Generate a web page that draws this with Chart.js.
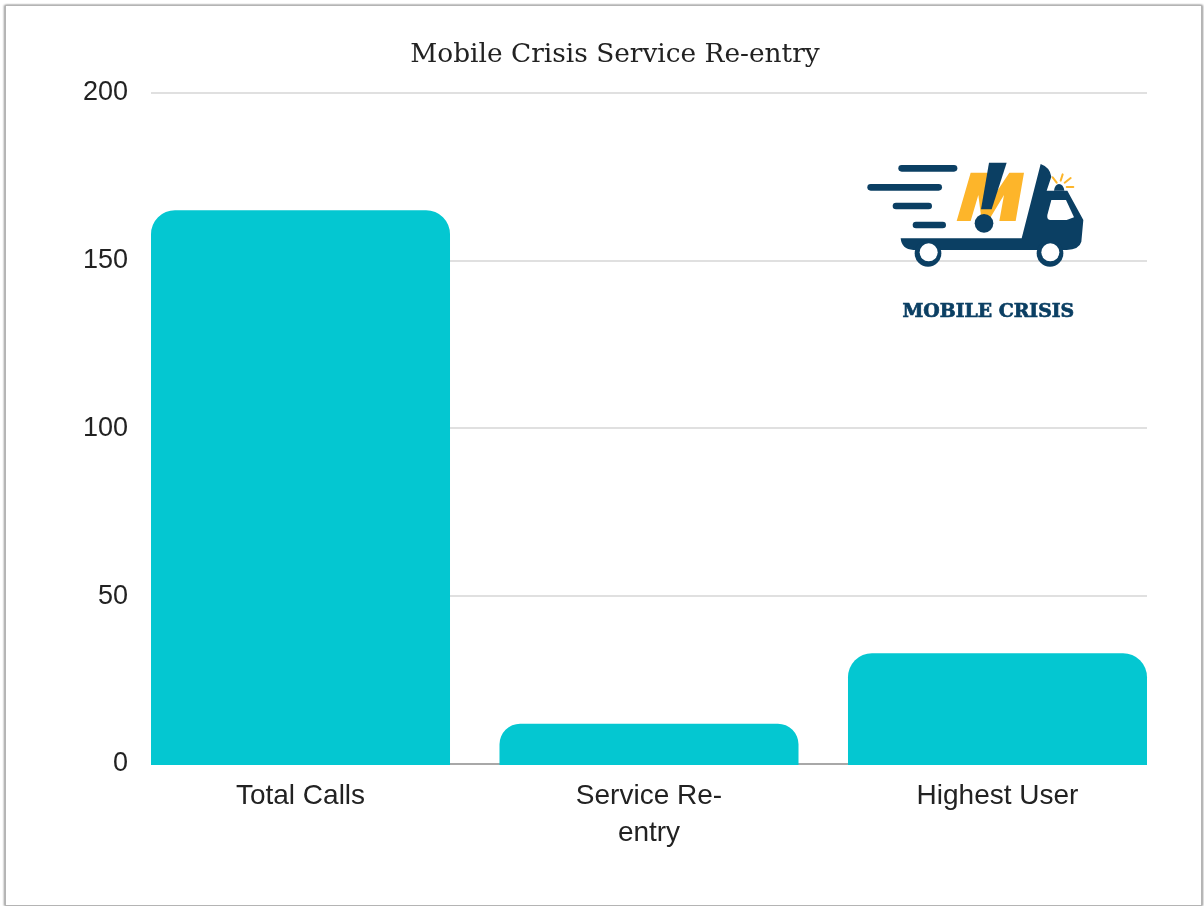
<!DOCTYPE html>
<html>
<head>
<meta charset="utf-8">
<title>Mobile Crisis Service Re-entry</title>
<script src="https://cdn.jsdelivr.net/npm/chart.js@4"></script>
<style>
  html, body { margin: 0; padding: 0; background: #fff; overflow: hidden; }
  #page { position: relative; width: 1204px; height: 906px; }
  #myChart { position: absolute; left: 0; top: 0; }
  #frame { position: absolute; left: 5px; top: 5px; width: 1195px; height: 899px; border: 1px solid #b4b4b4; box-shadow: -1px 0 2px #999, 1px 0 2px #999; pointer-events: none; }
  #logo { position: absolute; left: 850px; top: 140px; width: 250px; height: 200px; }
</style>
</head>
<body>
<div id="page">
  <canvas id="myChart" width="1204" height="906"></canvas>
  <div id="frame"></div>
  <!-- logo -->
  <svg id="logo" viewBox="0 0 750 600">
    <g stroke="#0b3f63" stroke-width="20" stroke-linecap="round">
      <line x1="155" y1="85" x2="312" y2="85"/>
      <line x1="62" y1="142" x2="266" y2="142"/>
      <line x1="138" y1="198" x2="236" y2="198"/>
      <line x1="198" y1="255" x2="278" y2="255"/>
    </g>
    <path d="M320 243 L362 98 H420 L430 170 L478 98 H522 L497 243 H448 L462 165 L415 243 H395 L385 165 L362 243 Z" fill="#fdb52a"/>
    <path d="M417 68 H470 L425 208 H393 Z" fill="#0b3f63"/>
    <circle cx="402" cy="250" r="28" fill="#0b3f63"/>
    <path d="M152 295 H515 L572 72 Q600 82 604 110 L590 152 H652 L700 240 L694 305 Q688 328 650 330 H190 Q155 328 152 295 Z" fill="#0b3f63"/>
    <path d="M604 180 H648 L672 232 L650 240 H600 Q590 238 592 225 Z" fill="#fff"/>
    <circle cx="234" cy="340" r="40" fill="#0b3f63"/>
    <circle cx="600" cy="340" r="40" fill="#0b3f63"/>
    <circle cx="236" cy="337" r="27" fill="#fff"/>
    <circle cx="601" cy="337" r="27" fill="#fff"/>
    <path d="M612 152 Q615 132 627 132 Q640 132 643 152 Z" fill="#0b3f63"/>
    <g stroke="#fdb52a" stroke-width="6" stroke-linecap="round">
      <line x1="608" y1="112" x2="620" y2="128"/>
      <line x1="638" y1="103" x2="632" y2="122"/>
      <line x1="662" y1="114" x2="644" y2="128"/>
      <line x1="670" y1="141" x2="650" y2="141"/>
    </g>
    <text x="415" y="532" text-anchor="middle" font-family="'DejaVu Serif'" font-weight="bold" font-size="54" fill="#0b3f63" stroke="#0b3f63" stroke-width="2" textLength="515" lengthAdjust="spacingAndGlyphs">MOBILE CRISIS</text>
  </svg>
</div>
<script>
const categories = ['Total Calls', ['Service Re-', 'entry'], 'Highest User'];
const callValues = [165, 12, 33];
const tickValues = [0, 50, 100, 150, 200];

const ctx = document.getElementById('myChart');

new Chart(ctx, {
  type: 'bar',
  data: {
    datasets: [{
      label: 'Mobile Crisis Service Re-entry',
      data: callValues.map((v, i) => ({ x: i, y: v })),
      backgroundColor: '#04c7d1',
      barPercentage: 0.858,
      categoryPercentage: 1,
      // bars run just past the zero line so it only shows between them
      base: -0.3,
      clip: false,
      borderRadius: { topLeft: 24, topRight: 24, bottomLeft: 0, bottomRight: 0 }
    }]
  },
  options: {
    responsive: false,
    animation: false,
    layout: { padding: { left: 83, right: 57, top: 0, bottom: 0 } },
    plugins: {
      legend: { display: false },
      tooltip: { enabled: false },
      title: {
        display: true,
        text: 'Mobile Crisis Service Re-entry',
        color: '#222',
        font: { family: "'DejaVu Serif'", size: 26.4, weight: 'normal' },
        padding: { top: 39.5, bottom: 21.5 }
      }
    },
    scales: {
      // linear so the bars can touch both ends of the grid lines
      x: {
        type: 'linear',
        offset: false,
        min: -0.429,
        max: 2.429,
        afterFit: axis => { axis.height = 142; },
        afterBuildTicks: axis => { axis.ticks = categories.map((c, i) => ({ value: i })); },
        grid: { display: false },
        border: { display: false },
        ticks: {
          color: '#222',
          padding: 6,
          maxRotation: 0,
          callback: value => categories[value],
          font: { family: "'Liberation Sans'", size: 28, lineHeight: 1.32 }
        }
      },
      y: {
        min: 0,
        max: 200,
        afterFit: axis => { axis.width = 68; },
        afterBuildTicks: axis => { axis.ticks = tickValues.map(v => ({ value: v })); },
        grid: {
          color: c => c.tick.value === 0 ? '#a8a8a8' : '#e0e0e0',
          lineWidth: 2,
          drawTicks: false
        },
        border: { display: false },
        ticks: {
          color: '#222',
          padding: 23,
          font: { family: "'Liberation Sans'", size: 27 }
        }
      }
    }
  }
});
</script>
</body>
</html>
